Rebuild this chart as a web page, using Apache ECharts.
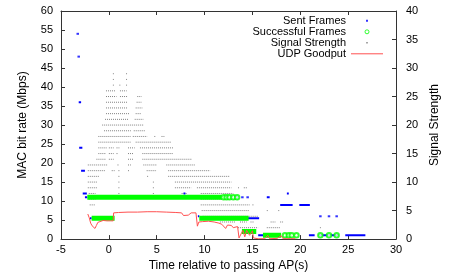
<!DOCTYPE html>
<html><head><meta charset="utf-8">
<script src="https://cdn.jsdelivr.net/npm/echarts@6/dist/echarts.min.js"></script>
<style>html,body{margin:0;padding:0;background:#fff}#c{width:457px;height:277px}</style>
</head><body><div id="c"></div>
<script>
// ---- data (time in s, rate in Mbps, signal strength in units) ----
const sentPoints = [[-3.25,54],[-3.15,48],[12.4,11],[12.85,11],[13.4,11],[13.95,11],[14.5,11],[22.1,6],[23.0,6],[23.8,6]];
const sentRuns = [[-3.15,-2.9,36],[-3.1,-2.77,24],[-2.9,-2.5,18],[-2.73,-2.3,12],[-2.5,-2.25,11],[-1.97,-1.8,5.5],
  [7.8,8.0,12],[9.3,9.45,6],[12.1,12.3,11],[14.5,15.7,5.5],[15.6,16.5,1],[16.5,16.8,11],[18.6,18.8,12],
  [17.9,19.2,9],[19.9,21.0,9],[20.9,21.5,1],[21.9,24.0,1],[24.7,26.8,1]];
const successRuns = [[-2.25,11.8,11],[-1.8,0.6,5.5],[9.45,14.6,5.5],[13.9,15.4,2],[16.1,18.0,1]];
const successPoints = [[12.0,11],[12.3,11],[12.6,11],[13.0,11],[13.4,11],[18.4,1],[18.8,1],[19.1,1],[19.6,1],[22.1,1],[23.0,1],[23.8,1]];
const signalRuns = [
 [29,0.42,0.52],[29,1.8,1.9],
 [28,0.42,0.52],[28,1.8,1.9],
 [27,0.42,0.52],[27,1.1,1.2],[27,1.8,1.9],
 [26,-0.3,0.64],[26,1.16,1.86],
 [25,-0.3,0.8],[25,1.16,2.0],[25,2.97,3.43],
 [24,-0.3,2.0],[24,2.9,3.4],
 [23,-0.3,2.0],[23,2.8,3.5],
 [22,-0.3,2.2],[22,2.8,3.4],
 [21,-0.4,2.0],[21,2.7,3.6],
 [20,-0.7,3.6],
 [19,-0.5,2.3],[19,2.6,3.8],
 [18,-1.1,2.3],[18,2.5,4.0],[18,4.75,4.85],[18,5.5,5.8],
 [17,-1.1,2.3],[17,2.8,6.5],
 [16,-1.1,-0.2],[16,0.0,0.5],[16,0.8,1.1],[16,2.0,2.7],[16,3.25,6.8],
 [15,-1.1,-0.3],[15,0.0,0.5],[15,0.8,1.0],[15,2.0,2.6],[15,3.5,6.7],
 [14,-1.3,-0.3],[14,0.0,0.5],[14,2.0,2.6],[14,3.5,8.7],
 [13,-2.2,-0.1],[13,0.9,1.1],[13,2.0,2.3],[13,3.6,5.0],[13,6.0,9.0],
 [12,-2.2,-0.4],[12,0.3,0.6],[12,1.0,1.1],[12,2.0,2.1],[12,3.95,5.0],[12,6.2,10.6],
 [11,-2.2,-1.0],[11,1.0,1.1],[11,4.0,4.1],[11,6.2,12.6],
 [10,-2.2,-1.2],[10,1.0,1.1],[10,4.6,4.7],[10,6.9,12.8],
 [9,-2.2,-1.2],[9,1.0,1.1],[9,4.6,4.7],[9,6.9,8.6],[9,9.2,12.8],[9,13.5,13.6],[9,14.1,14.5],
 [8,-2.1,-1.4],[8,1.0,1.1],[8,4.6,4.7],[8,7.6,8.2],[8,9.6,13.0],
 [7,-2.1,-1.4],[7,9.6,13.5],
 [6,-2.0,-1.4],[6,9.6,14.7],[6,15.0,15.2],
 [5,9.7,14.7],[5,16.5,16.6],[5,17.7,17.8],
 [4,9.8,15.6],
 [3,11.6,13.2],[3,13.7,14.4],[3,14.8,15.2],[3,16.9,17.4],[3,17.9,18.2],
 [2,13.5,15.6],[2,16.5,17.9],[2,22.05,22.15]
];
const goodput = [[-2.2,6.6],[-2.05,5.6],[-1.9,4.2],[-1.75,3.5],[-1.6,3.0],[-1.45,2.8],[-1.3,3.6],[-1.15,4.4],[-1.0,4.8],
 [-0.6,4.9],[-0.2,4.8],[0.2,4.8],[0.45,4.8],[0.5,6.9],[1.0,7.0],[2.0,7.1],[3.0,7.1],[4.0,7.2],[5.0,7.2],[6.0,7.1],
 [7.0,7.0],[7.6,6.9],[7.8,6.2],[8.0,6.7],[8.3,6.3],[8.6,6.9],[9.1,6.9],[9.25,3.4],[9.4,4.5],[9.8,4.6],[10.4,4.7],
 [11.0,4.5],[11.5,4.2],[11.8,3.9],[12.0,3.7],[12.2,2.8],[12.4,3.7],[12.8,3.6],[13.0,3.0],[13.2,3.5],[13.45,3.3],
 [13.6,0.3],[13.8,0.2],[14.0,2.3],[14.2,0.6],[14.4,2.3],[14.7,1.0],[15.0,2.2],[15.1,0.3],[15.6,0.1],[16.3,0.1],
 [16.6,1.0],[16.8,0.1],[17.6,0.2],[18.0,0.9],[18.2,0.1],[19.0,0.1],[19.5,0.1]];
const xRange = [-5, 30, 5];
const yLeftRange = [0, 60, 5];
const yRightRange = [0, 40, 5];
const legendNames = ['Sent Frames','Successful Frames','Signal Strength','UDP Goodput'];

// ---- build segment data (run endpoints, broken by empty values) ----
function runsToLine(runs, yIdx, t0Idx, t1Idx) {
  const out = [];
  runs.forEach(r => { out.push([r[t0Idx], r[yIdx]]); out.push([r[t1Idx], r[yIdx]]); out.push([r[t1Idx], null]); });
  return out;
}
const FONT = 'Liberation Sans';
const BLUE = '#0000ff', GREEN = '#00ff00', GRAY = '#808080', RED = '#ff5050', FRAME = '#333';

const chart = echarts.init(document.getElementById('c'), null, {renderer: 'canvas'});
const axisCommon = {
  type: 'value', splitLine: {show: false},
  axisLine: {show: true, onZero: false, lineStyle: {color: FRAME, width: 1}},
  axisTick: {show: true, inside: true, length: 4, lineStyle: {color: FRAME}},
  axisLabel: {color: '#000', fontSize: 11, fontFamily: FONT},
  nameTextStyle: {color: '#000', fontSize: 12, fontFamily: FONT}
};
chart.setOption({
  animation: false,
  textStyle: {fontFamily: FONT},
  grid: {left: 61, right: 61, top: 11, bottom: 31},
  legend: {
    orient: 'vertical', right: 74, top: 15.3, align: 'right', itemWidth: 32, itemHeight: 4, itemGap: 0, padding: 0,
    textStyle: {fontSize: 11, fontFamily: FONT, color: '#000', lineHeight: 9.4},
    selectedMode: false,
    data: [
      {name: legendNames[0], icon: 'path://M0,0M4,4M1,1h2v2h-2z', itemStyle: {color: BLUE}},
      {name: legendNames[1], icon: 'circle', itemStyle: {color: 'rgba(0,0,0,0)', borderColor: GREEN, borderWidth: 1}},
      {name: legendNames[2], icon: 'path://M0,0M4,4M1.3,1.3h1.4v1.4h-1.4z', itemStyle: {color: GRAY}},
      {name: legendNames[3], icon: 'path://M0,0H32V1H0Z', itemStyle: {color: RED}}
    ]
  },
  xAxis: [
    Object.assign({}, axisCommon, {min: xRange[0], max: xRange[1], interval: xRange[2], position: 'bottom',
      name: 'Time relative to passing AP(s)', nameLocation: 'middle', nameGap: 17,
      axisLabel: Object.assign({}, axisCommon.axisLabel, {margin: 5})}),
    Object.assign({}, axisCommon, {min: xRange[0], max: xRange[1], interval: xRange[2], position: 'top',
      axisLabel: {show: false}})
  ],
  yAxis: [
    Object.assign({}, axisCommon, {min: yLeftRange[0], max: yLeftRange[1], interval: yLeftRange[2], position: 'left',
      name: 'MAC bit rate (Mbps)', nameLocation: 'middle', nameGap: 32, nameRotate: 90,
      axisLabel: Object.assign({}, axisCommon.axisLabel, {margin: 8})}),
    Object.assign({}, axisCommon, {min: yRightRange[0], max: yRightRange[1], interval: yRightRange[2], position: 'right',
      name: 'Signal Strength', nameLocation: 'middle', nameGap: 30, nameRotate: 90,
      axisLabel: Object.assign({}, axisCommon.axisLabel, {margin: 10})})
  ],
  series: [
    {name: legendNames[0], type: 'scatter', data: sentPoints, symbol: 'rect', symbolSize: [2.5, 2],
     itemStyle: {color: BLUE}, z: 2},
    {name: legendNames[0], type: 'line', data: runsToLine(sentRuns, 2, 0, 1), symbol: 'none',
     lineStyle: {color: BLUE, width: 2, cap: 'butt'}, itemStyle: {color: BLUE}, z: 2},
    {name: legendNames[1], type: 'scatter', data: successPoints, symbol: 'emptyCircle', symbolSize: 4.5,
     itemStyle: {color: GREEN, borderColor: GREEN, borderWidth: 1}, z: 3},
    {name: legendNames[1], type: 'line', data: runsToLine(successRuns, 2, 0, 1), symbol: 'none',
     lineStyle: {color: GREEN, width: 5, cap: 'butt'}, itemStyle: {color: GREEN}, z: 3},
    {name: legendNames[2], type: 'line', yAxisIndex: 1, data: runsToLine(signalRuns, 0, 1, 2), symbol: 'none',
     lineStyle: {color: GRAY, width: 1, type: [1, 1]}, itemStyle: {color: GRAY}, z: 1},
    {name: legendNames[3], type: 'line', data: goodput, symbol: 'none',
     lineStyle: {color: RED, width: 1}, itemStyle: {color: RED}, z: 4}
  ]
});
</script>
</body></html>
